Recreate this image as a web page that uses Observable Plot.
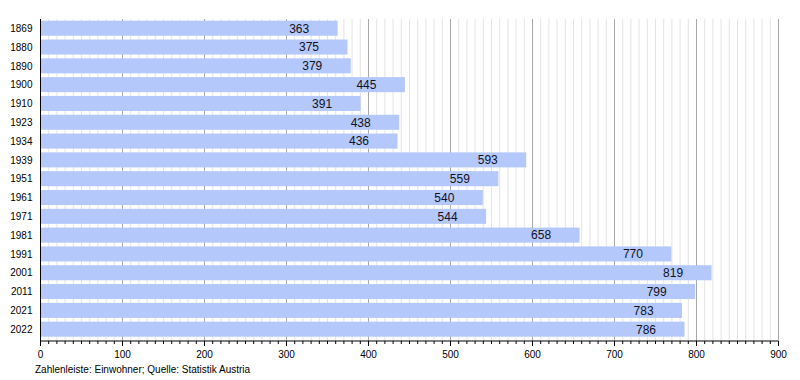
<!DOCTYPE html>
<html>
<head>
<meta charset="utf-8">
<script src="https://cdn.jsdelivr.net/npm/d3@7"></script>
<script src="https://cdn.jsdelivr.net/npm/@observablehq/plot@0.6"></script>
<style>
  body { margin: 0; background: #fff; font-family: "Liberation Sans", Arial, sans-serif; }
  #caption { font-size: 10px; line-height: 12px; padding-left: 35px; padding-top: 2px; color: #000; }
</style>
</head>
<body>
<div id="chart"></div>
<div id="caption">Zahlenleiste: Einwohner; Quelle: Statistik Austria</div>
<script>
const years = ["1869","1880","1890","1900","1910","1923","1934","1939","1951","1961","1971","1981","1991","2001","2011","2021","2022"];
const population = [363,375,379,445,391,438,436,593,559,540,544,658,770,819,799,783,786];
const majorTicks = d3.range(0, 901, 100);
const minorTicks = d3.range(0, 901, 10);

const data = years.map((y, i) => ({year: y, value: population[i]}));

const bottomLine = (index, scales, values, dimensions) => {
  const {height, marginBottom} = dimensions;
  const yy = height - marginBottom;
  const line = document.createElementNS("http://www.w3.org/2000/svg", "line");
  line.setAttribute("x1", scales.x(0));
  line.setAttribute("x2", scales.x(900));
  line.setAttribute("y1", yy);
  line.setAttribute("y2", yy);
  line.setAttribute("stroke", "#000");
  return line;
};

const chart = Plot.plot({
  width: 800,
  height: 362,
  marginTop: 19,
  marginBottom: 21,
  marginLeft: 40,
  marginRight: 22,
  style: {fontFamily: "Liberation Sans, Arial, sans-serif", fontSize: "10px", color: "#000", background: "#fff"},
  x: {domain: [0, 900], axis: null, label: null},
  y: {domain: years, range: [20.7, 336.7], round: false, paddingInner: 0.2, paddingOuter: 0, axis: null, label: null},
  marks: [
    Plot.ruleX(minorTicks.filter(d => d % 100 !== 0), {stroke: "#e4e4e4", strokeWidth: 1}),
    Plot.ruleX(majorTicks.filter(d => d > 0), {stroke: "#a8a8a8", strokeWidth: 1}),
    Plot.barX(data, {x: "value", y: "year", fill: "#b4c8fc"}),
    Plot.text(data, {x: "value", y: "year", text: d => String(d.value), dx: -39, fontSize: 12, fill: "#111122"}),
    Plot.ruleX([0], {stroke: "#000", strokeWidth: 1}),
    bottomLine,
    Plot.axisX({ticks: minorTicks, tickSize: 3, tickFormat: () => "", stroke: "#000", label: null}),
    Plot.axisX({ticks: majorTicks, tickSize: 5, tickPadding: 4, fontSize: 10, stroke: "#000", label: null}),
    Plot.axisY({tickSize: 0, tickPadding: 8, fontSize: 10, label: null})
  ]
});
document.getElementById("chart").appendChild(chart);
</script>
</body>
</html>
